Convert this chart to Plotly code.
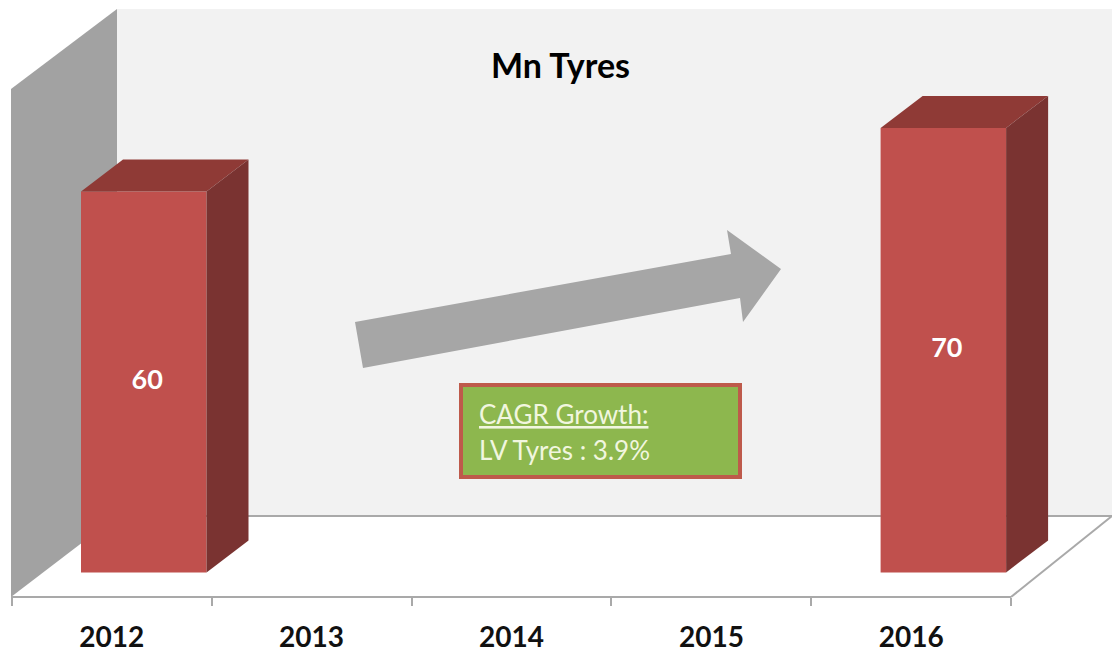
import plotly.graph_objects as go

W, H = 1112, 652

years = [2012, 2013, 2014, 2015, 2016]
values = [60, None, None, None, 70]
boundaries = [2011.5, 2012.5, 2013.5, 2014.5, 2015.5, 2016.5]
title_text = "Mn Tyres"
box_line1 = "CAGR Growth:"
box_line2 = "LV Tyres : 3.9%"

FACE = "#C0504D"
TOP = "#8F3A36"
SIDE = "#7A3331"
WALL = "#A2A2A2"
BACK = "#F2F2F2"
EDGE = "#A9A9A9"

# axis geometry (pixels per data unit)
PX_YEAR = 199.9
PX_UNIT = 6.35
X_ORIGIN = 111.7   # pixel of 2012
Y_ORIGIN = 572.4   # pixel of value 0
BAR_OFFSET = (81 - X_ORIGIN) / PX_YEAR
BAR_WIDTH = 125.5 / PX_YEAR
DEPTH_X = 42 / PX_YEAR
DEPTH_Y = 32 / PX_UNIT
LABEL_OFFSET = 35.5 / PX_YEAR


def px(x):
    return x / W


def py(y):
    return 1 - y / H


def poly(points, fill):
    path = "M " + " L ".join(f"{px(a):.5f},{py(b):.5f}" for a, b in points) + " Z"
    return dict(type="path", path=path, xref="paper", yref="paper",
                fillcolor=fill, line=dict(width=0), layer="below")


def seg(x0, y0, x1, y1):
    return dict(type="line", xref="paper", yref="paper", x0=px(x0), y0=py(y0),
                x1=px(x1), y1=py(y1), line=dict(color=EDGE, width=2), layer="below")


shapes = [
    poly([(117, 9), (1112, 9), (1112, 516), (117, 516)], BACK),
    poly([(11, 89), (117, 9), (117, 516), (11, 597)], WALL),
    seg(117, 516, 1112, 516),
    seg(11, 597, 1011, 597),
    seg(1011, 597, 1112, 516),
    # trend arrow
    dict(poly([(355, 322), (731, 254), (727, 230), (781, 269), (743, 322),
               (740, 298), (363, 368)], "#A6A6A6"), layer="above"),
    # CAGR box
    dict(type="rect", xref="paper", yref="paper", x0=px(461), x1=px(740),
         y0=py(385), y1=py(477), fillcolor="#8DB74E",
         line=dict(color="#BE5A4B", width=4), layer="above"),
]

fig = go.Figure()

fig.add_trace(go.Bar(
    x=years, y=values, width=BAR_WIDTH, offset=BAR_OFFSET,
    marker=dict(color=FACE, line=dict(width=0)),
    showlegend=False, hoverinfo="skip",
))

label_x, label_y, label_text = [], [], []
for yr, v in zip(years, values):
    if v is None:
        continue
    left = yr + BAR_OFFSET
    right = left + BAR_WIDTH
    fig.add_trace(go.Scatter(
        x=[left, right, right + DEPTH_X, left + DEPTH_X, left],
        y=[v, v, v + DEPTH_Y, v + DEPTH_Y, v],
        mode="lines", fill="toself", fillcolor=TOP, line=dict(width=0),
        showlegend=False, hoverinfo="skip",
    ))
    fig.add_trace(go.Scatter(
        x=[right, right + DEPTH_X, right + DEPTH_X, right, right],
        y=[0, DEPTH_Y, v + DEPTH_Y, v, 0],
        mode="lines", fill="toself", fillcolor=SIDE, line=dict(width=0),
        showlegend=False, hoverinfo="skip",
    ))
    label_x.append(yr + LABEL_OFFSET)
    label_y.append(v / 2)
    label_text.append(str(v))

fig.add_trace(go.Scatter(
    x=label_x, y=label_y, text=label_text, mode="text", textposition="middle center",
    textfont=dict(family="Lato", size=27, color="white", weight="bold"),
    showlegend=False, hoverinfo="skip",
))

annotations = [
    dict(text=f"<b>{title_text}</b>", xref="paper", yref="paper", x=px(560.5), y=py(65),
         xanchor="center", yanchor="middle", showarrow=False,
         font=dict(family="Lato", size=34, color="black")),
    dict(text=f"<u>{box_line1}</u>", xref="paper", yref="paper", x=px(477), y=py(414),
         xanchor="left", yanchor="middle", showarrow=False,
         font=dict(family="Lato", size=26, color="#F1F6DF")),
    dict(text=box_line2, xref="paper", yref="paper", x=px(477), y=py(450),
         xanchor="left", yanchor="middle", showarrow=False,
         font=dict(family="Lato", size=26, color="#F1F6DF")),
]

fig.update_layout(
    width=W, height=H, margin=dict(l=0, r=0, t=0, b=0, autoexpand=False),
    paper_bgcolor="white", plot_bgcolor="rgba(0,0,0,0)",
    shapes=shapes, annotations=annotations, showlegend=False,
    xaxis=dict(
        automargin=False,
        range=[2012 - X_ORIGIN / PX_YEAR, 2012 + (W - X_ORIGIN) / PX_YEAR],
        domain=[0, 1], anchor="free", position=(H - 597) / H,
        tickmode="array", tickvals=years, ticktext=[str(y) for y in years],
        ticks="outside", ticklen=15, tickcolor="rgba(0,0,0,0)",
        tickfont=dict(family="Lato", size=28, color="#111111", weight="bold"),
        minor=dict(tickmode="array", tickvals=boundaries, ticks="outside",
                   ticklen=8, tickcolor=EDGE, tickwidth=1.5, showgrid=False),
        showgrid=False, zeroline=False, showline=False, fixedrange=True,
    ),
    yaxis=dict(
        automargin=False,
        range=[(Y_ORIGIN - H) / PX_UNIT, Y_ORIGIN / PX_UNIT], domain=[0, 1],
        visible=False, showgrid=False, zeroline=False, fixedrange=True,
    ),
)

fig.write_html("out.html", config=dict(displayModeBar=False),
               post_script="document.body.style.margin='0';document.documentElement.style.overflow='hidden';")
